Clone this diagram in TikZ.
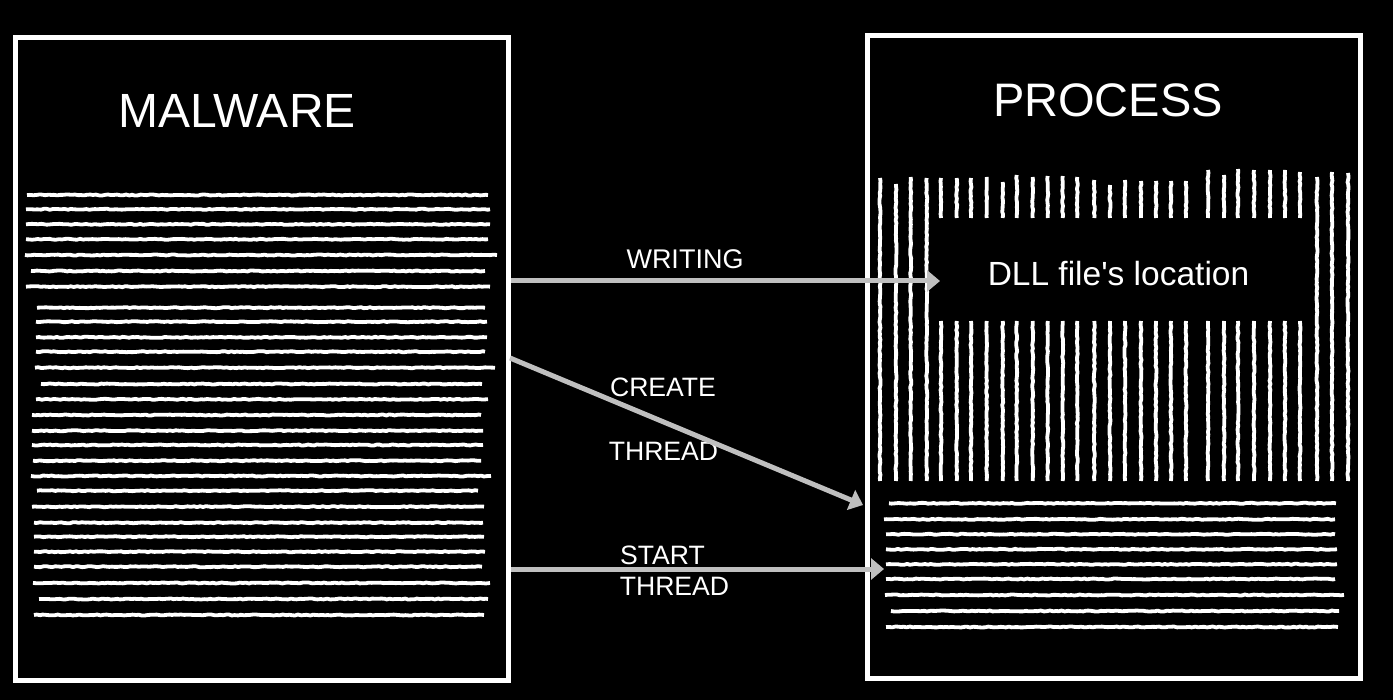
\documentclass[tikz,border=0pt]{standalone}
\usepackage{fontspec}
\setmainfont{Liberation Sans}
\newfontfamily\dllfont{Liberation Sans}[Ligatures=TeXOff]
\usetikzlibrary{arrows.meta,decorations.pathmorphing}
\definecolor{arrowgray}{HTML}{BFBFBF}
\begin{document}
\pgfmathsetseed{7}
\begin{tikzpicture}[x=1pt,y=-1pt,
  box/.style={draw=white,line width=5pt,rectangle,inner sep=0pt,minimum width=493pt,minimum height=642.5pt},
  title/.style={text=white,anchor=base,inner sep=0pt,font=\fontsize{48}{58}\selectfont},
  lbl/.style={text=white,anchor=base,inner sep=0pt,font=\fontsize{26.6}{32}\selectfont},
  arr/.style={draw=arrowgray,line width=5pt,-{Triangle[length=13pt,width=21pt]}},
  stroke/.style={draw=white,line width=3.8pt,line join=round,decorate,decoration={random steps,segment length=3pt,amplitude=0.5pt}}]
\fill[black] (0,0) rectangle (1393,700);
\useasboundingbox (0,0) rectangle (1393,700);
% left box texture
\foreach \y/\a/\b in {195/27/488,209.3/26/490,224.3/26/490,239.3/26/488,255/25/497,271/31/485,286.7/26/490,
  307.7/37/485,321.7/36/487,337.3/36/487,351.7/36/485,367.7/35/495,384/41/482,399.3/36/488,415/32/481,
  430.7/32/483,445/32/483,460.7/33/481,476/31/491,490.7/37/478,506.7/32/484,522.7/34/483,536.7/34/484,
  551.7/34/485,566.7/34/482,583/33/490,599/39/488,615/34/484}
  \draw[stroke] (\a,\y) -- (\b,\y);
% right box lower texture
\foreach \y/\a/\b in {503.3/889/1336,519.3/884/1335,534.3/886/1335,549.3/886/1337,564.3/886/1337,
  579/886/1335,595/885/1344,611/891/1339,627/886/1338}
  \draw[stroke] (\a,\y) -- (\b,\y);
% right box vertical texture, full height
\foreach \x/\t in {880/178,896/184,910.7/177,926.7/178,1317/177,1332/172,1348/173}
  \draw[stroke] (\x,\t) -- (\x,481);
% right box vertical texture, broken by the DLL field
\foreach \x/\t in {941/178,956.7/178,971/178,986.7/177,1002.7/182,1016.7/175,1032.7/177,1047.7/176,
  1062.7/176,1077.3/177,1094.3/180,1110/185,1125/180,1141/181,1156/181,1171/181,1186/181,
  1208/170,1224/175,1238/169,1254/170,1270/170,1285/170,1300/172}
  {\draw[stroke] (\x,\t) -- (\x,218); \draw[stroke] (\x,321) -- (\x,481);}
% boxes
\node[box] (malware) at (262,358.75) {};
\node[box] (process) at (1114,356.75) {};
% titles
\node[title] (malwaretitle) at (237,128) {MALWARE};
\node[title,font=\fontsize{47}{56}\selectfont] (processtitle) at (1108,117) {PROCESS};
\node[text=white,anchor=base,inner sep=0pt,font=\dllfont\fontsize{33.5}{40}\selectfont] (dll) at (1118.5,286) {DLL file's location};
% labels
\node[lbl,font=\fontsize{27}{32}\selectfont] (writing) at (685,269) {WRITING};
\node[lbl] (create) at (663,397) {CREATE};
\node[lbl] (thread1) at (663.5,461) {THREAD};
\node[lbl] (start) at (662.5,564) {START};
\node[lbl] (thread2) at (674.5,595) {THREAD};
% arrows
\coordinate (wEnd) at (940,281);
\coordinate (cStart) at (510,358);
\coordinate (cEnd) at (863,505);
\coordinate (sEnd) at (884,569);
\draw[arr] (malware.east |- wEnd) -- (wEnd);
\draw[arr] (cStart) -- (cEnd);
\draw[arr] (malware.east |- sEnd) -- (sEnd);
\end{tikzpicture}
\end{document}
